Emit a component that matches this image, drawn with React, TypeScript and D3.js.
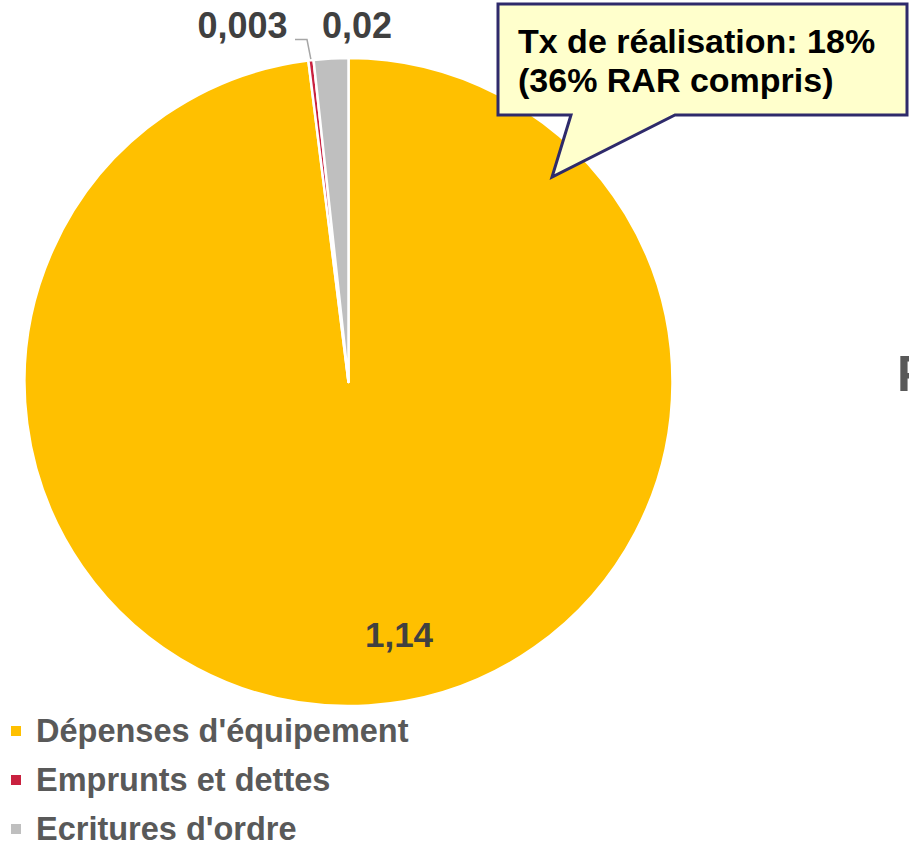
import React from "react";
import * as d3 from "d3";

const categories = ["Dépenses d'équipement", "Emprunts et dettes", "Ecritures d'ordre"];
const values = [1.14, 0.003, 0.02];
const valueLabels = ["1,14", "0,003", "0,02"];
const colors = ["#FFC000", "#C9213F", "#BFBFBF"];
const calloutLines = ["Tx de réalisation: 18%", "(36% RAR compris)"];
const sideTitle = "Fonctionnement";

const W = 909;
const H = 846;
const cx = 348.5;
const cy = 382;
const R = 324;

export default function App() {
  const data = categories.map((c, i) => ({ name: c, value: values[i], color: colors[i], label: valueLabels[i] }));
  const pie = d3
    .pie<any>()
    .sort(null)
    .value((d: any) => d.value)
    .startAngle(0)
    .endAngle(2 * Math.PI);
  const arcs = pie(data);
  const arc = d3.arc<any>().innerRadius(0).outerRadius(R);

  const red = arcs[1];
  const redMid = (red.startAngle + red.endAngle) / 2;
  const leaderEnd = [cx + Math.sin(redMid) * (R + 1), cy - Math.cos(redMid) * (R + 1)];
  const font = "'Liberation Sans', Arial, sans-serif";

  return (
    <svg width={W} height={H} style={{ position: "absolute", left: 0, top: 0 }} fontFamily={font}>
      <rect width={W} height={H} fill="#ffffff" />
      <g transform={`translate(${cx},${cy})`}>
        {arcs.map((a, i) => (
          <path key={i} d={arc(a) as string} fill={a.data.color} stroke="#ffffff" strokeWidth={2.5} strokeLinejoin="round" />
        ))}
      </g>
      {/* leader line */}
      <polyline
        points={`295,39.5 307,39.5 ${leaderEnd[0]},${leaderEnd[1]}`}
        fill="none"
        stroke="#A6A6A6"
        strokeWidth={1.5}
      />
      <text x={242.5} y={38} textAnchor="middle" fontSize={36} fontWeight="bold" fill="#404040">
        {valueLabels[1]}
      </text>
      <text x={357} y={38} textAnchor="middle" fontSize={36} fontWeight="bold" fill="#404040">
        {valueLabels[2]}
      </text>
      <text x={399} y={647} textAnchor="middle" fontSize={35} fontWeight="bold" fill="#404040">
        {valueLabels[0]}
      </text>

      {/* callout */}
      <path
        d="M498,4 H907 V115 H675 L552,177 L571,115 H498 Z"
        fill="#FFFFCC"
        stroke="#2E2A6B"
        strokeWidth={3}
        strokeLinejoin="miter"
      />
      {calloutLines.map((t, i) => (
        <text key={i} x={518} y={53 + i * 39} fontSize={34} fontWeight="bold" fill="#000000">
          {t}
        </text>
      ))}

      <text x={897} y={391} fontSize={50} fontWeight="bold" fill="#595959">
        {sideTitle}
      </text>

      {/* legend */}
      {data.map((d, i) => (
        <g key={i} transform={`translate(0,${742 + i * 49})`}>
          <rect x={11} y={-16} width={10} height={10} fill={d.color} />
          <text x={36} y={0} fontSize={32.5} fontWeight="bold" fill="#595959">
            {d.name}
          </text>
        </g>
      ))}
    </svg>
  );
}
